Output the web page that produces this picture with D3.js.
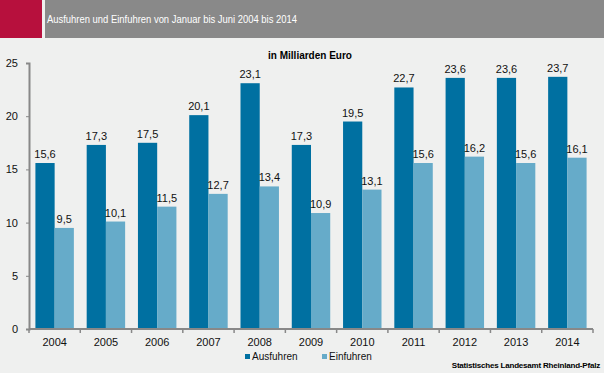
<!DOCTYPE html>
<html>
<head>
<meta charset="utf-8">
<script src="https://cdn.jsdelivr.net/npm/d3@7"></script>
<style>
  body { margin: 0; background: #eff0ef; }
  svg { display: block; font-family: "Liberation Sans", Arial, sans-serif; }
</style>
</head>
<body>
<svg id="chart" width="604" height="373"></svg>
<script>
const years = ['2004', '2005', '2006', '2007', '2008', '2009', '2010', '2011', '2012', '2013', '2014'];
const ausfuhren = [15.6, 17.3, 17.5, 20.1, 23.1, 17.3, 19.5, 22.7, 23.6, 23.6, 23.7];
const einfuhren = [9.5, 10.1, 11.5, 12.7, 13.4, 10.9, 13.1, 15.6, 16.2, 15.6, 16.1];
const yTicks = [0, 5, 10, 15, 20, 25];
const seriesNames = ['Ausfuhren', 'Einfuhren'];
const colors = ['#0070a1', '#66abc9'];

const svg = d3.select('#chart');
const width = 604;

// header
svg.append('rect').attr('x', 0).attr('y', 0).attr('width', width).attr('height', 38).attr('fill', '#898989');
svg.append('rect').attr('x', 0).attr('y', 0).attr('width', 42).attr('height', 38).attr('fill', '#b7103d');
svg.append('rect').attr('x', 42).attr('y', 0).attr('width', 3).attr('height', 38).attr('fill', '#eff0ef');
svg.append('text')
    .attr('x', 47).attr('y', 23)
    .attr('font-size', '11px')
    .attr('textLength', 250)
    .attr('lengthAdjust', 'spacingAndGlyphs')
    .attr('fill', '#fff')
    .text('Ausfuhren und Einfuhren von Januar bis Juni 2004 bis 2014');

const plotLeft = 29, plotRight = 593, plotTop = 63, plotBottom = 329;

const x = d3.scaleBand().domain(years).range([plotLeft, plotRight]).paddingInner(0.25).paddingOuter(0.125);
const xSub = d3.scaleBand().domain(seriesNames).range([0, x.bandwidth()]);
const y = d3.scaleLinear().domain([0, 25]).range([plotBottom, plotTop]);

// subtitle
svg.append('text')
    .attr('x', 310).attr('y', 59)
    .attr('text-anchor', 'middle')
    .attr('font-size', '10px')
    .attr('font-weight', 'bold')
    .attr('fill', '#000')
    .text('in Milliarden Euro');

// bars
const data = years.map((yr, i) => ({ year: yr, values: [ausfuhren[i], einfuhren[i]] }));
const groups = svg.append('g').selectAll('g')
    .data(data)
    .enter()
    .append('g')
    .attr('transform', d => `translate(${x(d.year)},0)`);

groups.selectAll('rect')
    .data(d => d.values.map((v, j) => ({ name: seriesNames[j], value: v, color: colors[j] })))
    .enter()
    .append('rect')
    .attr('x', d => xSub(d.name))
    .attr('y', d => y(d.value))
    .attr('width', xSub.bandwidth())
    .attr('height', d => plotBottom - y(d.value))
    .attr('fill', d => d.color);

groups.selectAll('text')
    .data(d => d.values.map((v, j) => ({ name: seriesNames[j], value: v })))
    .enter()
    .append('text')
    .attr('x', d => xSub(d.name) + xSub.bandwidth() / 2)
    .attr('y', d => y(d.value) - 5)
    .attr('text-anchor', 'middle')
    .attr('font-size', '11px')
    .attr('fill', '#111')
    .text(d => d.value.toFixed(1).replace('.', ','));

// y axis
const yAxis = svg.append('g')
    .attr('transform', `translate(${plotLeft},0)`)
    .call(d3.axisLeft(y).tickValues(yTicks).tickSize(3).tickPadding(8));
yAxis.select('.domain').attr('stroke', '#888').attr('stroke-width', 2);
yAxis.selectAll('.tick line').attr('stroke', '#888');
yAxis.selectAll('.tick text').attr('font-size', '11px').attr('fill', '#111').attr('font-family', '"Liberation Sans", Arial, sans-serif');

// x axis
const xAxis = svg.append('g')
    .attr('transform', `translate(0,${plotBottom})`)
    .call(d3.axisBottom(x).tickSize(0).tickPadding(9));
xAxis.select('.domain').attr('stroke', '#888').attr('stroke-width', 2).attr('d', `M${plotLeft},0H${plotRight}`);
xAxis.selectAll('.tick text').attr('font-size', '11px').attr('fill', '#111').attr('font-family', '"Liberation Sans", Arial, sans-serif');

const step = x.step();
const boundaries = d3.range(years.length + 1).map(i => plotLeft + i * step);
xAxis.selectAll('.sep')
    .data(boundaries)
    .enter()
    .append('line')
    .attr('x1', d => d).attr('x2', d => d)
    .attr('y1', 0).attr('y2', 4)
    .attr('stroke', '#888')
    .attr('stroke-width', 1.5);

// legend
const legendX = [245, 322];
const legend = svg.append('g').selectAll('g')
    .data(seriesNames)
    .enter()
    .append('g')
    .attr('transform', (d, i) => `translate(${legendX[i]},354)`);
legend.append('rect').attr('width', 5).attr('height', 5).attr('y', 0).attr('fill', (d, i) => colors[i]);
legend.append('text')
    .attr('x', 7).attr('y', 6)
    .attr('font-size', '10px')
    .attr('fill', '#111')
    .text(d => d);

// source
svg.append('text')
    .attr('x', 600).attr('y', 368)
    .attr('text-anchor', 'end')
    .attr('font-size', '8px')
    .attr('font-weight', 'bold')
    .attr('letter-spacing', '-0.2px')
    .attr('fill', '#000')
    .text('Statistisches Landesamt Rheinland-Pfalz');
</script>
</body>
</html>
